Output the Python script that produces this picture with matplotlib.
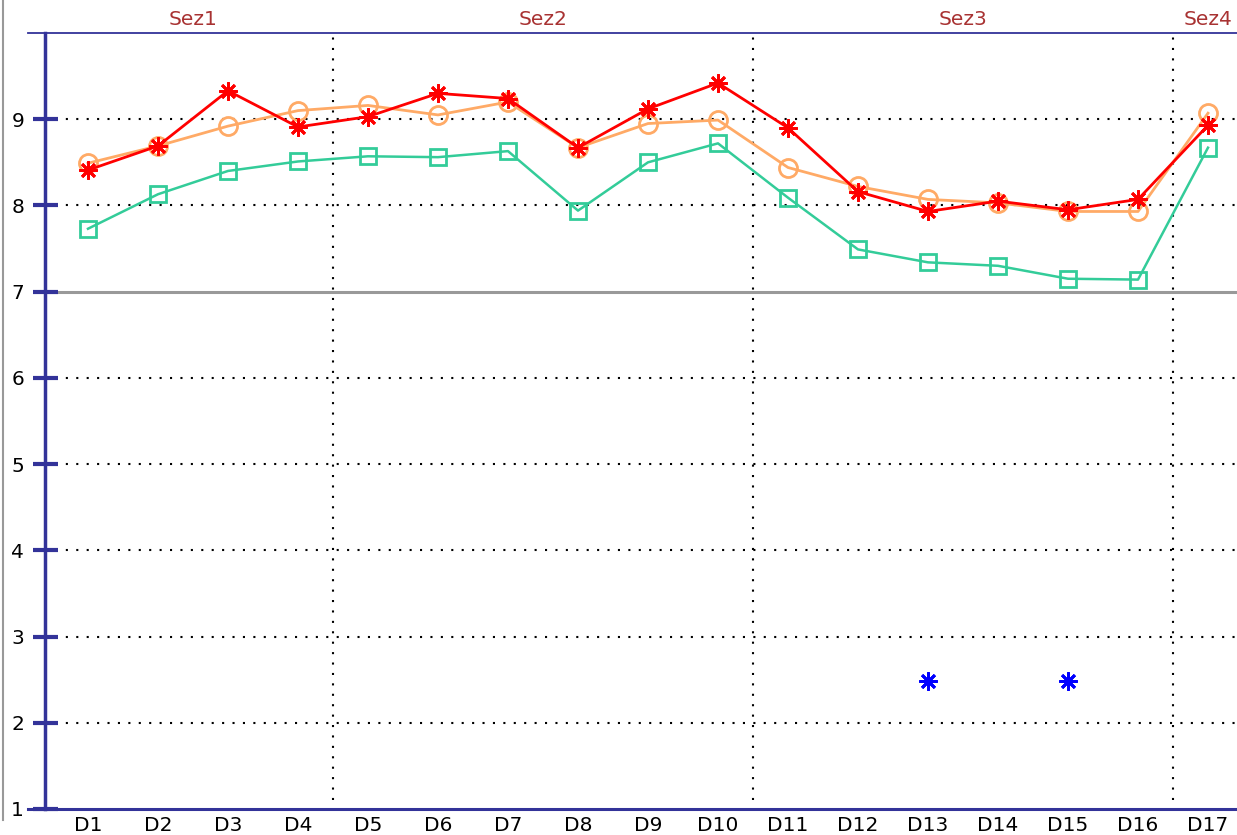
import matplotlib
matplotlib.use("Agg")
from matplotlib import pyplot as plt
from matplotlib.lines import Line2D

labels = ["D%d" % i for i in range(1, 18)]
red_vals = [8.41, 8.69, 9.33, 8.91, 9.03, 9.30, 9.24, 8.67, 9.12, 9.42,
            8.90, 8.16, 7.93, 8.05, 7.95, 8.07, 8.93]
orange_vals = [8.49, 8.69, 8.92, 9.10, 9.16, 9.05, 9.20, 8.67, 8.95, 8.99,
               8.44, 8.22, 8.07, 8.03, 7.93, 7.93, 9.07]
green_vals = [7.73, 8.13, 8.40, 8.51, 8.57, 8.56, 8.63, 7.94, 8.50, 8.72,
              8.09, 7.49, 7.34, 7.30, 7.15, 7.14, 8.67]
blue_x = [12, 14]
blue_vals = [2.48, 2.48]
sections = ["Sez1", "Sez2", "Sez3", "Sez4"]
section_bounds = [(0, 3), (4, 9), (10, 15), (16, 16)]
threshold = 7

navy = "#333399"

fig = plt.figure(figsize=(12.37, 8.35), dpi=100)
ax = fig.add_axes([45 / 1237, 26 / 835, (1237 - 45) / 1237, 776 / 835])
x = list(range(len(labels)))

ax.set_xlim(-43 / 70, (1237 - 88) / 70)
ax.set_ylim(1, 10)

# grid
for yv in [2, 3, 4, 5, 6, 8, 9]:
    ax.axhline(yv, color="black", lw=1.5, ls=(0, (1, 4)), zorder=1)
ax.axhline(threshold, color="#999999", lw=2.2, zorder=1)
for lo, hi in section_bounds[:-1]:
    ax.axvline(hi + 0.5, ymin=0.012, color="black", lw=1.5, ls=(0, (1, 4)), zorder=1)

ax.plot(x, green_vals, color="#33CC99", lw=1.8, marker="s", ms=12,
        mfc="none", mec="#33CC99", mew=2, zorder=3)
ax.plot(x, orange_vals, color="#FFAA66", lw=2, marker="o", ms=13,
        mfc="none", mec="#FFAA66", mew=2, zorder=4)
ax.plot(x, red_vals, color="#FF0000", lw=2, marker=(8, 2, 0), ms=13,
        mec="#FF0000", mew=2, zorder=5)
ax.plot(blue_x, blue_vals, ls="none", marker=(8, 2, 0), ms=13,
        mec="#0000FF", mew=2, zorder=5)

# section labels
for name, (lo, hi) in zip(sections, section_bounds):
    ax.text((lo + hi) / 2, 10.16, name, ha="center", va="center",
            color="#A83232", fontsize=14.5)

ax.set_xticks(x)
ax.set_xticklabels(labels, fontsize=14.5)
ax.set_yticks(range(1, 10))
ax.set_yticklabels([str(v) for v in range(1, 10)], fontsize=14.5)
ax.tick_params(axis="x", length=0, pad=5)
ax.tick_params(axis="y", direction="inout", length=18, width=3, color=navy, pad=6)

for s in ["top", "right"]:
    ax.spines[s].set_visible(False)
ax.spines["left"].set_color(navy)
ax.spines["left"].set_linewidth(2.5)
ax.spines["bottom"].set_visible(False)

ext = -17 / (1237 - 45)
ax.add_line(Line2D([ext, 1], [0, 0], transform=ax.transAxes, color=navy,
                   lw=2.2, clip_on=False, zorder=6))
ax.add_line(Line2D([ext, 1], [1, 1], transform=ax.transAxes, color=navy,
                   lw=1.3, clip_on=False, zorder=6))

fig.add_artist(Line2D([2.5 / 1237, 2.5 / 1237], [15 / 835, 1], color="#999999", lw=1.5))

fig.savefig("out.png", dpi=100)
